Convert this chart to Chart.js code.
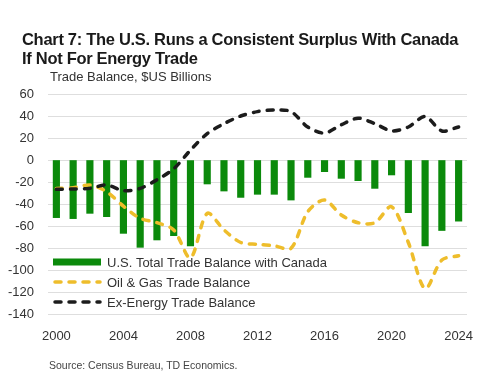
<!DOCTYPE html>
<html>
<head>
<meta charset="utf-8">
<script src="https://cdn.jsdelivr.net/npm/chart.js@4.4.1/dist/chart.umd.min.js"></script>
<style>
  html, body { margin: 0; padding: 0; background: #ffffff; }
  body { width: 494px; height: 379px; position: relative; overflow: hidden; font-family: "Liberation Sans", Arial, sans-serif; }
  #wrap { position: absolute; left: 0; top: 0; width: 494px; height: 379px; }
  .title { position: absolute; left: 22px; font-weight: bold; font-size: 16.5px; color: #1a1a1a; white-space: nowrap; letter-spacing: -0.3px; }
  #t1 { top: 30px; }
  #t2 { top: 49px; }
  #sub { position: absolute; left: 50px; top: 69px; font-size: 13px; color: #333; white-space: nowrap; }
  #src { position: absolute; left: 49px; top: 359px; font-size: 10.5px; color: #444; white-space: nowrap; }
</style>
</head>
<body>
<div id="wrap"><canvas id="c" width="494" height="379"></canvas></div>
<div class="title" id="t1">Chart 7: The U.S. Runs a Consistent Surplus With Canada</div>
<div class="title" id="t2">If Not For Energy Trade</div>
<div id="sub">Trade Balance, $US Billions</div>
<div id="src">Source: Census Bureau, TD Economics.</div>
<script>
// ---- Data ($US billions) ----
const years = ["2000","2001","2002","2003","2004","2005","2006","2007","2008","2009","2010","2011","2012",
               "2013","2014","2015","2016","2017","2018","2019","2020","2021","2022","2023","2024"];
const totalBalance = [-52.4,-53.3,-48.5,-51.5,-66.7,-79.4,-72.7,-68.8,-78.2,-21.8,-28.2,-34.0,-31.2,
                      -31.2,-36.4,-15.8,-10.6,-16.7,-18.8,-25.8,-13.6,-47.9,-78.1,-64.1,-55.6];
const oilGasBalance = [-25.8,-25.2,-22.7,-28.8,-42.0,-53.0,-57.0,-63.6,-89.0,-48.5,-63.6,-75.0,-76.7,
                       -78.0,-80.3,-47.0,-36.4,-50.0,-57.0,-57.0,-42.4,-75.0,-117.0,-91.0,-87.0];
const exEnergyBalance = [-26.7,-26.4,-25.8,-22.7,-27.9,-25.8,-18.0,-8.0,9.0,24.0,33.0,40.0,44.0,
                         45.5,44.0,30.0,24.5,32.0,38.0,33.0,26.5,30.0,39.5,26.4,30.0];
const seriesNames = ["U.S. Total Trade Balance with Canada", "Oil & Gas Trade Balance", "Ex-Energy Trade Balance"];
const yTicks = [60, 40, 20, 0, -20, -40, -60, -80, -100, -120, -140];

const GREEN = "#0b8a0b";
const GOLD = "#eebd2b";
const BLACK = "#1c1c1c";
const TXT = "#333333";
const FONT = "'Liberation Sans', Arial, sans-serif";

const legendPlugin = {
  id: 'insideLegend',
  beforeDatasetsDraw(chart) {
    const ctx = chart.ctx;
    const x0 = 53, x1 = 101, tx = 107;
    const rows = [262, 282, 302];
    ctx.save();
    chart.data.datasets.forEach((ds, i) => {
      const y = rows[i];
      if (ds.type === 'bar') {
        ctx.fillStyle = ds.backgroundColor;
        ctx.fillRect(x0, y - 3.5, x1 - x0, 7);
      } else {
        ctx.strokeStyle = ds.borderColor;
        ctx.lineWidth = ds.borderWidth;
        ctx.lineCap = 'round';
        ctx.setLineDash(ds.borderDash);
        ctx.beginPath();
        ctx.moveTo(x0 + 2, y);
        ctx.lineTo(x1 - 1, y);
        ctx.stroke();
        ctx.setLineDash([]);
      }
      ctx.fillStyle = TXT;
      ctx.font = "13px " + FONT;
      ctx.textBaseline = 'middle';
      ctx.textAlign = 'left';
      ctx.fillText(ds.label, tx, y + 1);
    });
    ctx.restore();
  }
};

new Chart(document.getElementById('c'), {
  data: {
    labels: years,
    datasets: [
      { type: 'bar', label: seriesNames[0], data: totalBalance, backgroundColor: GREEN,
        barThickness: 6.5, order: 3 },
      { type: 'line', label: seriesNames[1], data: oilGasBalance, borderColor: GOLD, borderWidth: 3.5,
        borderDash: [6, 8], borderCapStyle: 'round', pointRadius: 0, tension: 0.3, fill: false, order: 2 },
      { type: 'line', label: seriesNames[2], data: exEnergyBalance, borderColor: BLACK, borderWidth: 3.5,
        borderDash: [6, 8], borderCapStyle: 'round', pointRadius: 0, tension: 0.3, fill: false, order: 1 }
    ]
  },
  options: {
    responsive: false,
    animation: false,
    devicePixelRatio: 1,
    layout: { padding: { left: 0, top: 94, right: 27, bottom: 35 } },
    plugins: { legend: { display: false }, tooltip: { enabled: false }, title: { display: false } },
    scales: {
      x: {
        type: 'category',
        offset: true,
        grid: { display: false, drawTicks: false },
        border: { display: false },
        ticks: {
          autoSkip: false, maxRotation: 0, padding: 15,
          color: TXT, font: { family: FONT, size: 13 },
          callback: function(v, i) { const y = years[i]; return (parseInt(y) % 4 === 0) ? y : ''; }
        },
        afterFit(scale) { scale.height = 30; }
      },
      y: {
        min: -140, max: 60,
        afterBuildTicks(scale) { scale.ticks = yTicks.map(v => ({ value: v })); },
        grid: { color: '#dedede', lineWidth: 1, drawTicks: false },
        border: { display: false },
        ticks: { padding: 14, color: TXT, font: { family: FONT, size: 13 } },
        afterFit(scale) { scale.width = 48; }
      }
    }
  },
  plugins: [legendPlugin]
});
</script>
</body>
</html>
